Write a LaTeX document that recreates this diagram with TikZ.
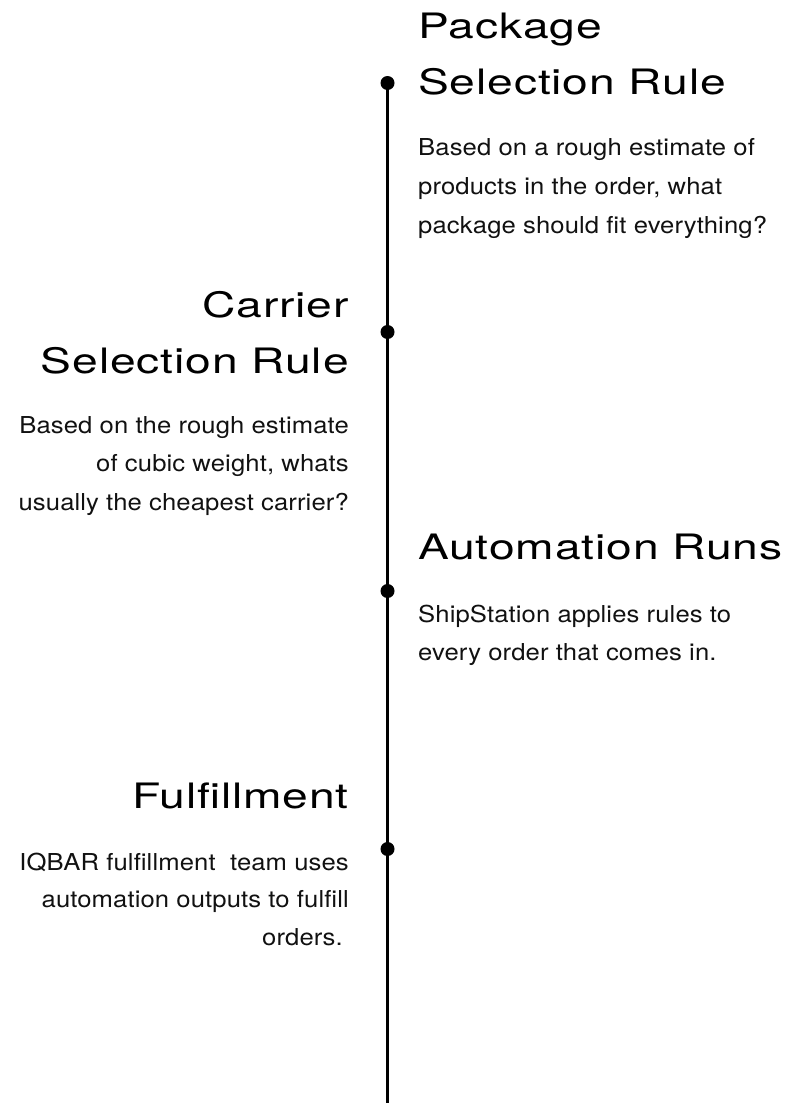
\documentclass[tikz,border=0pt]{standalone}
\usepackage{fontspec}
\newfontfamily\headfont[FakeStretch=1.32,LetterSpace=2.5]{TeX Gyre Heros}
\newfontfamily\bodyfont[FakeStretch=1.1,LetterSpace=0.5]{TeX Gyre Heros}
\newcommand\leftlines[2]{\vtop{\baselineskip=#1pt\lineskiplimit=-100pt\halign{##\hfil\cr #2\crcr}}}
\newcommand\rightlines[2]{\vtop{\baselineskip=#1pt\lineskiplimit=-100pt\halign{\hfil##\cr #2\crcr}}}
\definecolor{ink}{HTML}{111111}
\tikzset{
  head/.style={inner sep=0pt, text=black, font=\headfont\fontsize{35}{56}\selectfont},
  body/.style={inner sep=0pt, text=ink, font=\bodyfont\fontsize{23.3}{38.5}\selectfont},
  dot/.style={circle, fill=black, inner sep=0pt, minimum size=14pt},
  spine/.style={line width=2.6pt, black}
}
\begin{document}
\begin{tikzpicture}[x=1pt,y=-1pt]
\useasboundingbox (0,0) rectangle (802,1103);
% spine
\coordinate (p1) at (387.5,83);
\coordinate (p2) at (387.5,332);
\coordinate (p3) at (387.5,591);
\coordinate (p4) at (387.5,849);
\coordinate (bot) at (387.5,1103);
\draw[spine] (p1) -- (bot);
\node[dot] (d1) at (p1) {};
\node[dot] (d2) at (p2) {};
\node[dot] (d3) at (p3) {};
\node[dot] (d4) at (p4) {};
% Package Selection Rule
\node[head, anchor=base west] (h1) at (418,38) {\leftlines{56}{Package\cr Selection Rule}};
\node[body, anchor=base west] (b1) at (418,155) {\leftlines{39}{Based on a rough estimate of\cr products in the order, what\cr package should fit everything?}};
% Carrier Selection Rule
\node[head, anchor=base east] (h2) at (349,317) {\rightlines{56}{Carrier\cr Selection Rule}};
\node[body, anchor=base east] (b2) at (349,433) {\rightlines{38.5}{Based on the rough estimate\cr of cubic weight, whats\cr usually the cheapest carrier?}};
% Automation Runs
\node[head, anchor=base west] (h3) at (418,559) {\leftlines{56}{Automation Runs}};
\node[body, anchor=base west] (b3) at (418,622) {\leftlines{38}{ShipStation applies rules to\cr every order that comes in.}};
% Fulfillment
\node[head, anchor=base east] (h4) at (349,808) {\rightlines{56}{Fulfillment}};
\node[body, anchor=base east] (b4) at (349,870) {\rightlines{37.5}{IQBAR fulfillment\ \ team uses\cr automation outputs to fulfill\cr orders.\hspace{6pt}}};
\end{tikzpicture}
\end{document}
